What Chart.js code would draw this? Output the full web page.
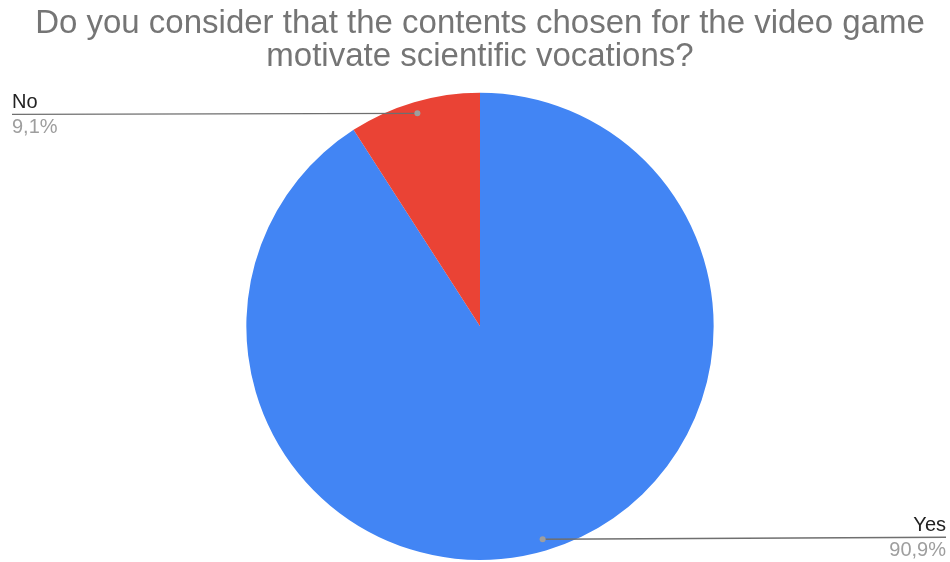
<!DOCTYPE html>
<html>
<head>
<meta charset="utf-8">
<script src="https://cdn.jsdelivr.net/npm/chart.js@4"></script>
<style>
  body { margin: 0; background: #fff; }
  #wrap { width: 950px; height: 562px; }
</style>
</head>
<body>
<div id="wrap"><canvas id="pie"></canvas></div>
<script>
// Data for the chart
const labels = ['Yes', 'No'];
const values = [90.9, 9.1];
const colors = ['#4285f4', '#ea4335'];
const titleLines = ['Do you consider that the contents chosen for the video game', 'motivate scientific vocations?'];

// Leader lines with label + percentage, Google-sheets style
const leaderLabels = {
    id: 'leaderLabels',
    afterDatasetsDraw(chart) {
        const ctx = chart.ctx;
        const meta = chart.getDatasetMeta(0);
        const total = values.reduce((a, b) => a + b, 0);
        meta.data.forEach((arc, i) => {
            const mid = (arc.startAngle + arc.endAngle) / 2;
            const r = arc.outerRadius * 0.95;
            const dx = arc.x + Math.cos(mid) * r;
            const dy = arc.y + Math.sin(mid) * r;
            const left = Math.cos(mid) < 0;
            const endX = left ? 12 : chart.width - 4;
            const lineY = left ? dy + 1 : dy - 2;

            ctx.save();
            ctx.strokeStyle = '#6f6f6f';
            ctx.lineWidth = 1.4;
            ctx.beginPath();
            ctx.moveTo(dx, dy);
            ctx.lineTo(endX, lineY);
            ctx.stroke();
            ctx.fillStyle = '#9e9e9e';
            ctx.beginPath();
            ctx.arc(dx, dy, 3, 0, Math.PI * 2);
            ctx.fill();

            ctx.font = '20px "Liberation Sans", Arial, sans-serif';
            ctx.textAlign = left ? 'left' : 'right';
            ctx.textBaseline = 'alphabetic';
            ctx.fillStyle = '#222222';
            ctx.fillText(labels[i], endX, lineY - 6);
            const pct = (values[i] / total * 100).toFixed(1).replace('.', ',') + '%';
            ctx.fillStyle = '#9e9e9e';
            ctx.fillText(pct, endX, lineY + 19);
            ctx.restore();
        });
    }
};

new Chart(document.getElementById('pie'), {
    type: 'pie',
    data: {
        labels: labels,
        datasets: [{
            data: values,
            backgroundColor: colors,
            borderWidth: 0
        }]
    },
    options: {
        responsive: true,
        maintainAspectRatio: false,
        animation: false,
        layout: { padding: { top: 0, bottom: 2, left: 10, right: 0 } },
        plugins: {
            legend: { display: false },
            tooltip: { enabled: false },
            title: {
                display: true,
                text: titleLines,
                color: '#757575',
                font: { family: '"Liberation Sans", Arial, sans-serif', size: 33, weight: 'normal', lineHeight: 0.98 },
                padding: { top: 8, bottom: 20 }
            }
        }
    },
    plugins: [leaderLabels]
});
</script>
</body>
</html>
